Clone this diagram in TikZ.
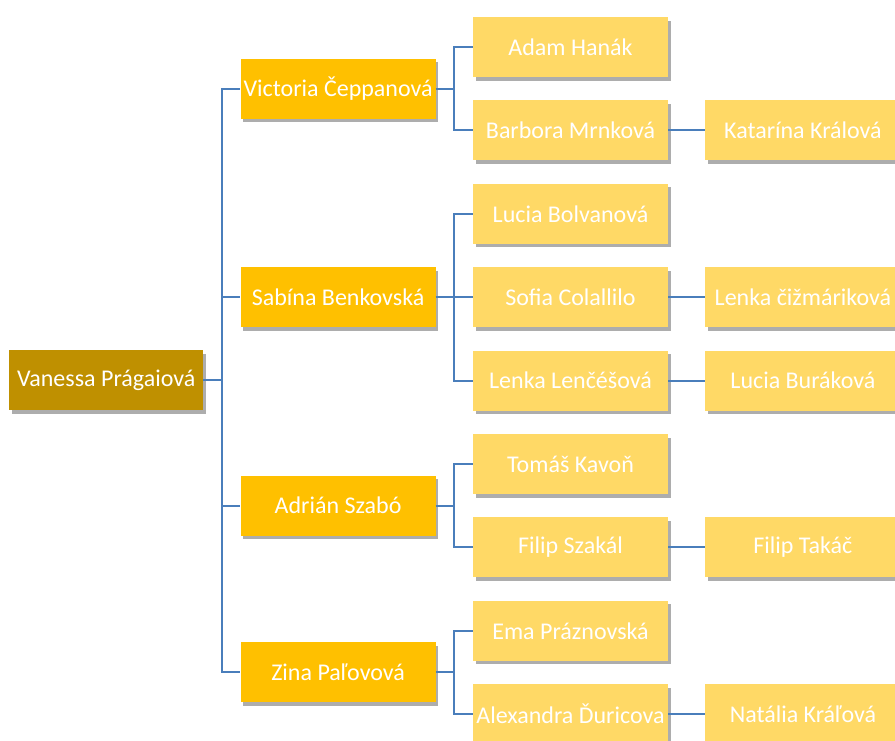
\documentclass[tikz,border=0pt]{standalone}
\usepackage{fontspec}
\setmainfont{Carlito}
\usetikzlibrary{positioning, shadows}
\definecolor{rootgold}{HTML}{BF9000}
\definecolor{gold}{HTML}{FFC000}
\definecolor{lightgold}{HTML}{FFD966}
\definecolor{linkblue}{HTML}{4A7EBB}

\begin{document}
\begin{tikzpicture}[x=1pt, y=-1pt, node distance = 23pt and 37pt,
	box/.style={minimum width=195pt, minimum height=60pt, inner sep=1pt, text=white,
		font=\fontsize{24}{28}\selectfont,
		drop shadow={shadow xshift=2.5pt, shadow yshift=-3.5pt, opacity=.4, fill=black!80}},
	root/.style={box, fill=rootgold, minimum width=194pt},
	parent/.style={box, fill=gold},
	kid/.style={box, fill=lightgold},
	elbow/.style={to path={-- ++(18.5,0) |- (\tikztotarget)}}]
		
		\useasboundingbox (0,0) rectangle (895,740);
		
		% grandchildren column
		\node[kid] (6) at (570.5,47) {Adam Hanák};
		\node[kid] (7) [below=of 6] {Barbora Mrnková};
		\node[kid] (8) [below=of 7] {Lucia Bolvanová};
		\node[kid] (9) [below=of 8] {Sofia Colallilo};
		\node[kid] (10) [below=of 9] {Lenka Lenčéšová};
		\node[kid] (11) [below=of 10] {Tomáš Kavoň};
		\node[kid] (12) [below=of 11] {Filip Szakál};
		\node[kid] (13) [below=of 12] {Ema Práznovská};
		\node[kid] (14) [below=of 13] {Alexandra Ďuricova};
		
		\node[kid] (15) [right=of 7] {Katarína Králová};
		\node[kid] (16) [right=of 9] {Lenka čižmáriková};
		\node[kid] (17) [right=of 10] {Lucia Buráková};
		\node[kid] (18) [right=of 12] {Filip Takáč};
		\node[kid] (19) [right=of 14] {Natália Kráľová};
		
		% children
		\node[parent] (2) [left=of 6, yshift=-41.5pt] {Victoria Čeppanová};
		\node[parent] (3) [left=of 9] {Sabína Benkovská};
		\node[parent] (4) [left=of 11, yshift=-41.5pt] {Adrián Szabó};
		\node[parent] (5) [left=of 13, yshift=-41.5pt] {Zina Paľovová};
		
		\node[root] (1) [left=of 3, yshift=-83pt] {Vanessa Prágaiová};
		
		\path[draw=linkblue, line width=2pt]
		(1.east) edge [elbow] (2.west)
		(1.east) edge [elbow] (3.west)
		(1.east) edge [elbow] (4.west)
		(1.east) edge [elbow] (5.west)
		
		(2.east) edge [elbow] (6.west)
		(2.east) edge [elbow] (7.west)
		
		(3.east) edge [elbow] (8.west)
		(3.east) edge [elbow] (9.west)
		(3.east) edge [elbow] (10.west)
		
		(4.east) edge [elbow] (11.west)
		(4.east) edge [elbow] (12.west)
		
		(5.east) edge [elbow] (13.west)
		(5.east) edge [elbow] (14.west)
		
		(7) edge (15)
		(9) edge (16)
		(10) edge (17)
		(12) edge (18)
		(14) edge (19);
		
\end{tikzpicture}
\end{document}
